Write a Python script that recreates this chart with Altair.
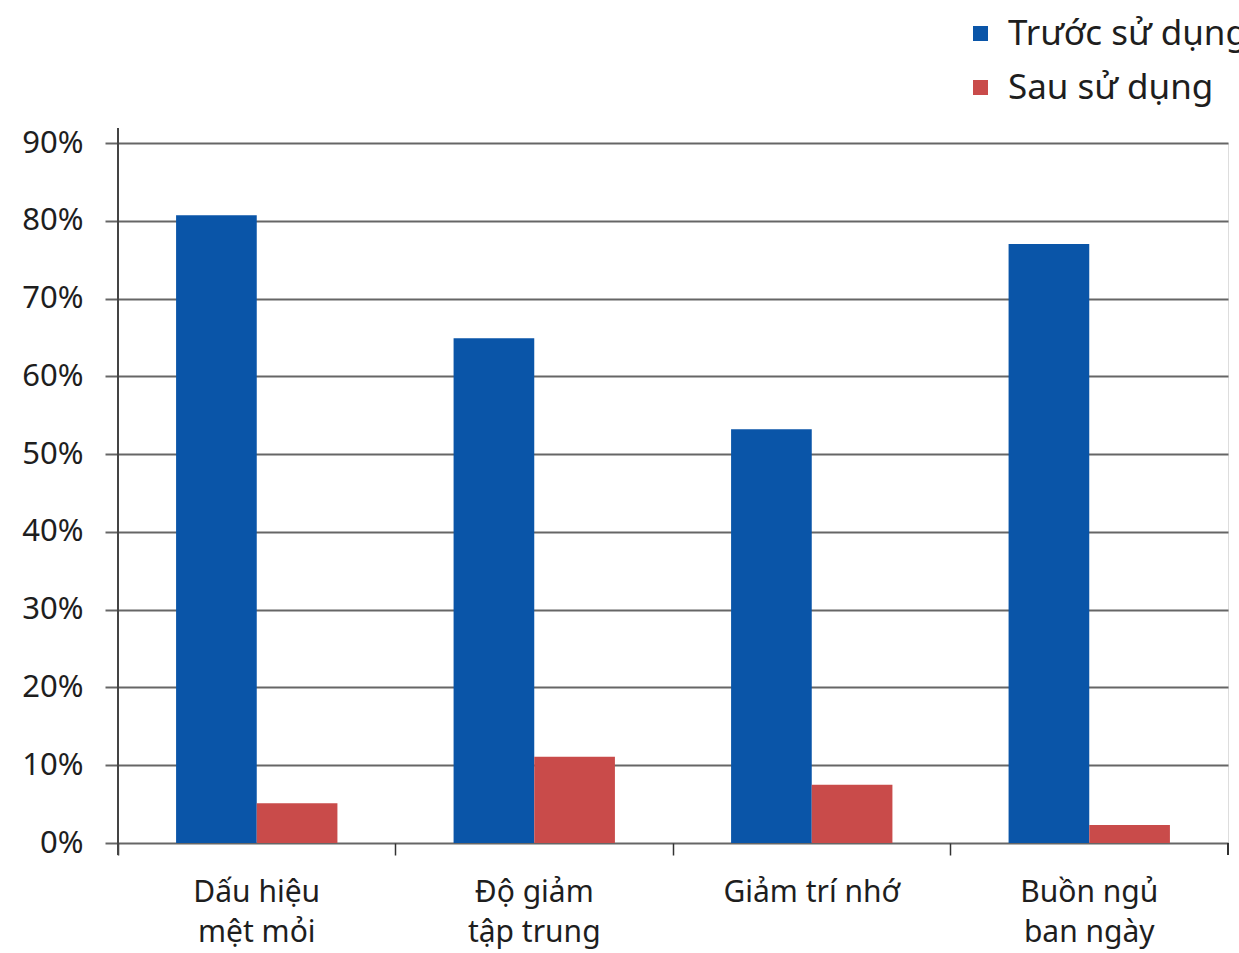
import altair as alt
import pandas as pd

categories = ["Dấu hiệu|mệt mỏi", "Độ giảm|tập trung", "Giảm trí nhớ", "Buồn ngủ|ban ngày"]
series = ["Trước sử dụng", "Sau sử dụng"]
before = [80.7, 64.9, 53.2, 77.0]
after = [5.1, 11.1, 7.5, 2.3]
colors = ["#0a55a8", "#c94b4a"]
y_ticks = [0, 10, 20, 30, 40, 50, 60, 70, 80, 90]

rows = []
for i, c in enumerate(categories):
    rows.append(dict(cat=c, series=series[0], value=before[i]))
    rows.append(dict(cat=c, series=series[1], value=after[i]))
df = pd.DataFrame(rows)

W, H = 1110, 700
grid_color = "#666666"
text_color = "#1e1e1e"
FONT = "Noto Sans"

bars = alt.Chart(df).mark_bar().encode(
    x=alt.X(
        "cat:N",
        sort=categories,
        scale=alt.Scale(paddingInner=0, paddingOuter=0),
        axis=alt.Axis(
            title=None,
            labelAngle=0,
            labelExpr="split(datum.label, '|')",
            bandPosition=0,
            ticks=True,
            tickSize=12,
            tickWidth=1.5,
            tickColor="#333333",
            domain=False,
            grid=False,
            labelFontSize=30,
            labelPadding=22,
            labelLineHeight=40,
            labelBaseline="top",
            labelColor=text_color,
            labelFont=FONT,
        ),
    ),
    xOffset=alt.XOffset(
        "series:N", sort=series, scale=alt.Scale(paddingOuter=0.72, paddingInner=0)
    ),
    y=alt.Y(
        "value:Q",
        scale=alt.Scale(domain=[0, 90], nice=False),
        axis=alt.Axis(
            values=y_ticks,
            labelExpr="datum.value + '%'",
            title=None,
            grid=True,
            gridColor=grid_color,
            gridWidth=2,
            gridOpacity=1,
            tickSize=13,
            tickColor=grid_color,
            tickWidth=2,
            domain=False,
            labelFontSize=31,
            labelPadding=22,
            labelColor=text_color,
            labelFont=FONT,
        ),
    ),
    color=alt.Color(
        "series:N",
        sort=series,
        scale=alt.Scale(domain=series, range=colors),
        legend=alt.Legend(
            title=None,
            orient="none",
            legendX=845,
            legendY=-127,
            padding=0,
            symbolType="square",
            symbolSize=225,
            symbolStrokeWidth=0,
            labelFontSize=35,
            labelFont=FONT,
            labelColor=text_color,
            labelOffset=10,
            rowPadding=18,
            labelLimit=600,
        ),
    ),
)

yline = alt.Chart(df).mark_rule(color="#444444", strokeWidth=1.5).encode(
    x=alt.value(0), y=alt.value(-15), y2=alt.value(712)
)
end_tick = alt.Chart(df).mark_rule(color="#333333", strokeWidth=1.5).encode(
    x=alt.value(W), y=alt.value(H), y2=alt.value(H + 12)
)

chart = (
    alt.layer(bars, yline, end_tick)
    .properties(
        width=W,
        height=H,
        autosize=alt.AutoSizeParams(type="none"),
        padding={"left": 118, "top": 143, "right": 11, "bottom": 110},
        background="white",
    )
    .configure_view(stroke=None)
    .configure(font=FONT)
)

chart.save("out.html", embed_options={"renderer": "svg", "actions": False})
